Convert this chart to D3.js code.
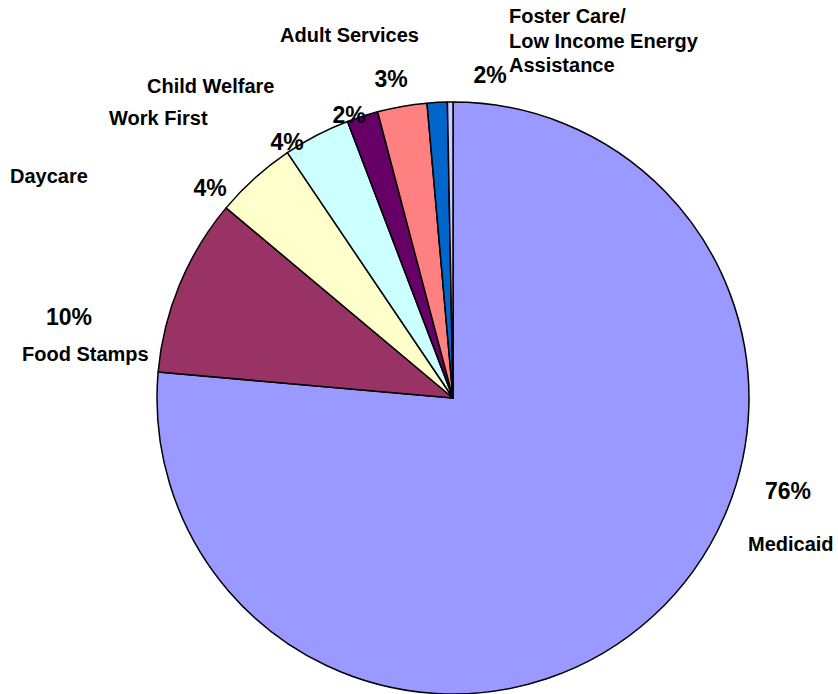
<!DOCTYPE html>
<html>
<head>
<meta charset="utf-8">
<script src="https://cdn.jsdelivr.net/npm/d3@7"></script>
<style>
  body { margin: 0; background: #fff; }
  text { font-family: "Liberation Sans", Arial, sans-serif; font-weight: bold; fill: #000; }
</style>
</head>
<body>
<div id="pieChart"></div>
<script>
// data (share of total, %)
const categories = ["Medicaid", "Food Stamps", "Daycare", "Work First", "Child Welfare",
    "Adult Services", "Foster Care", "Low Income Energy Assistance"];
const values = [76.4, 9.7, 4.45, 3.65, 1.7, 2.7, 1.1, 0.3];
const colors = ["#9999ff", "#993366", "#ffffcc", "#ccffff", "#660066", "#ff8080", "#0066cc", "#ccccff"];

// labels as printed on the chart
const pctLabels = ["76%", "10%", "4%", "4%", "2%", "3%", "2%"];
const nameLabels = [["Medicaid"], ["Food Stamps"], ["Daycare"], ["Work First"], ["Child Welfare"],
    ["Adult Services"], ["Foster Care/", "Low Income Energy", "Assistance"]];

// where the labels were placed by hand in the original (x, baseline)
const pctPos = [[788, 499], [69, 325], [210, 196], [287, 150], [349, 123], [391, 87], [490, 83]];
const namePos = [[748, 551], [22, 361], [10, 183], [109, 125], [147, 93], [280, 42], [509, 23]];

const width = 838, height = 694;
const cx = 453, cy = 398, radius = 296;

const svg = d3.select("#pieChart")
    .append("svg")
    .attr("width", width)
    .attr("height", height);

const pie = d3.pie().sort(null).value(function (d) { return d; });
const arc = d3.arc().innerRadius(0).outerRadius(radius);

const g = svg.append("g").attr("transform", `translate(${cx},${cy})`);

g.selectAll("path")
    .data(pie(values))
    .join("path")
    .attr("d", arc)
    .attr("fill", function (d, i) { return colors[i]; })
    .attr("stroke", "#000")
    .attr("stroke-width", 1.5)
    .attr("stroke-linejoin", "round");

// percentage labels
svg.selectAll(".pct")
    .data(pctLabels)
    .join("text")
    .attr("class", "pct")
    .attr("x", function (d, i) { return pctPos[i][0]; })
    .attr("y", function (d, i) { return pctPos[i][1]; })
    .attr("text-anchor", "middle")
    .style("font-size", "23px")
    .text(function (d) { return d; });

// category labels
const names = svg.selectAll(".name")
    .data(nameLabels)
    .join("text")
    .attr("class", "name")
    .attr("x", function (d, i) { return namePos[i][0]; })
    .attr("y", function (d, i) { return namePos[i][1]; })
    .style("font-size", "20px");

names.selectAll("tspan")
    .data(function (d, i) { return d.map(function (t) { return { t: t, x: namePos[i][0] }; }); })
    .join("tspan")
    .attr("x", function (d) { return d.x; })
    .attr("dy", function (d, j) { return j === 0 ? 0 : 24.7; })
    .text(function (d) { return d.t; });
</script>
</body>
</html>
